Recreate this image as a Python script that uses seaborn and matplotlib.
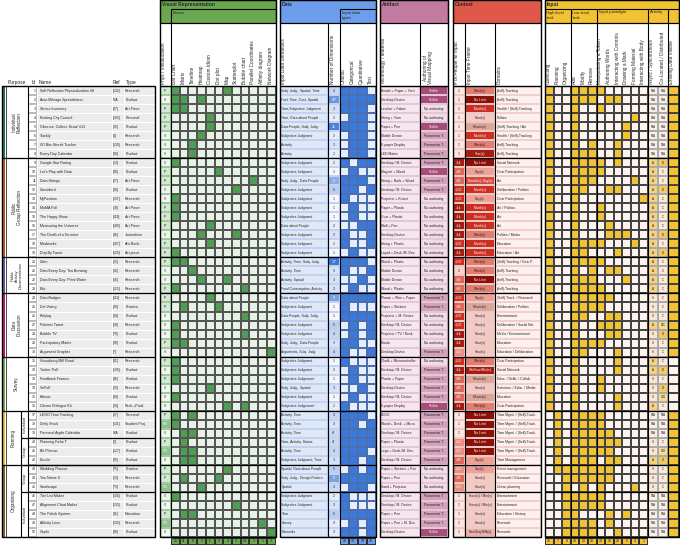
import numpy as np
import matplotlib
matplotlib.use('Agg')
import matplotlib.pyplot as plt
from matplotlib.colors import ListedColormap, LinearSegmentedColormap
from matplotlib.patches import Rectangle
import seaborn as sns

# ==============================================================================
# Data (read off the reference table)
# ==============================================================================
NAMES = ['Self Reflection Physicalization #8', 'Auto Mileage Spreadsheet', 'Stress Inventory',
         'Knitting City Council', 'Observe, Collect, Draw! #13', 'Trackly', 'I/O Bits Streak Tracker',
         'Every Day Calendar', 'Google Star Rating', "Let's Play with Data", 'Data Strings', 'Consider.it',
         'MyPosition', 'MoMA Poll', 'The Happy Show', 'Measuring the Universe', 'The Death of a Terrorist',
         'Mindworks', 'Drip By Tweet', 'Calm', 'Data Every Day: Tea Brewing', 'Data Every Day: Plant Water',
         'Edo', 'Data Badges', 'Dot Voting', 'Polylog', 'Polemic Tweet', 'Bubble TV', 'Participatory Matrix',
         'Argument Grapher', 'Visualizing Mill Road', 'Twitter Poll', 'Feedback Frames', 'VisPoll', 'Kahoot',
         'Citizen Dialogue Kit', 'LEGO Time Tracking', 'Daily Stack', 'Personal Apple Calendar',
         'Planning Fiche T', 'Bit Planner', 'Doodle', 'Wedding Planner', 'You Name It', 'Sandscape',
         'Tier List Maker', 'Alignment Chart Maker', 'The Polish System', 'Affinity Lens', 'Gephi']
REFS = ['[132]', 'N/A', '[47]', '[103]', '[95]', '[4]', '[139]', '[90]', '[53]', '[40]', '[27]', '[84]',
        '[137]', '[58]', '[119]', '[109]', '[86]', '[107]', '[129]', '[55]', '[16]', '[16]', '[123]', '[111]',
        '[28]', '[34]', '[68]', '[70]', '[80]', '[7]', '[81]', '[135]', '[46]', '[23]', '[44]', '[24]',
        '[67]', '[131]', 'N/A', '[2]', '[127]', '[35]', '[75]', '[13]', '[73]', '[134]', '[133]', '[41]',
        '[130]', '[49]']
TYPES = ['Research', 'Product', 'Art Piece', 'Personal', 'Product', 'Research', 'Research', 'Product',
         'Product', 'Product', 'Art Piece', 'Product', 'Research', 'Art Piece', 'Art Piece', 'Art Piece',
         'Journalism', 'Art+Rsch.', 'Art piece', 'Research', 'Research', 'Research', 'Research', 'Research',
         'Practice', 'Product', 'Research', 'Product', 'Product', 'Research', 'Research', 'Product', 'Product',
         'Research', 'Product', 'Rsch.+Prod.', 'Personal', 'Student Proj.', 'Product', 'Product', 'Product',
         'Product', 'Practice', 'Research', 'Research', 'Product', 'Product', 'Education', 'Research', 'Product']

PURPOSE_LABELS = ['Individual\nReflection', 'Public\nGroup Reflection', 'Public\nActivity\nDocumentation',
                  'Data\nDiscussion', 'Survey', 'Planning', 'Organizing']
PURPOSE_SIZES = [8, 11, 4, 7, 6, 6, 8]
PURPOSE_COLORS = ['#22795a', '#c2581f', '#5c5fa8', '#c2186b', '#6aa84f', '#f1c232', '#8d6430']
SUB_LABELS = ['Individual', 'Group', 'Group', 'Individual']
SUB_SIZES = [3, 3, 3, 5]

PHYS = ['P', 'V', 'P', 'P', 'P*', 'V', 'V', 'V', 'V', 'P', 'P', 'V', 'V', 'P', 'P', 'P*', 'V', 'P', 'P',
        'P', 'V', 'V', 'P', 'P', 'P', 'V', 'V', 'V', 'P', 'V', 'P', 'V', 'P', 'V', 'V', 'V', 'P', 'P/V',
        'V', 'P', 'P/V', 'V', 'P', 'P', 'P/V', 'V', 'V', 'P*', 'P/V', 'V']
IDIOMS = ['Bar Chart', 'Matrix', 'Timeline', 'Heatmap', 'Custom Idiom', 'Dot plot', 'Map', 'Scatterplot',
          'Bubble chart', 'Parallel Coordinates', 'Affinity diagram', 'Network Diagram']
IDIOM_ROWS = ['100000100000', '110100000000', '110000000000', '000010000000', '000010000000',
              '000100000000', '001000000000', '001000000000', '100000000000', '000001000000',
              '000000000100', '000000010000', '100000000000', '100000000000', '100000000000',
              '000010000000', '000100010000', '000010000000', '100000000000', '110000000000',
              '001000000000', '000100100000', '100000001000', '000010000000', '010001000000',
              '000000001000', '100000000000', '100000001000', '110000000000', '000000000001',
              '100000000000', '100000000000', '100000000000', '000010000000', '100000000000',
              '000000101000', '101000000000', '100000000000', '011000000000', '010000000000',
              '011000000000', '011000000000', '000000100000', '010001000000', '000100000000',
              '100000000000', '000000010000', '011000000000', '000000000010', '000000000001']
IDIOM_TOTALS = ['21', '11', '8', '5', '6', '3', '4', '3', '14', '1', '1', '2']

SEMANTICS = ['Subj. Judg., Spatial, Time', 'Fuel, Time, Cost, Spatial', 'Time,Subjective Judgment',
             'Time, Data about People', 'Data:People, Subj. Judg.', 'Subjective Judgment', 'Activity',
             'Activity', 'Subjective Judgment', 'Subjective Judgment', 'Subj. Judg., Data:People',
             'Subjective Judgment', 'Subjective Judgment', 'Subjective Judgment', 'Subjective Judgment',
             'Data about People', 'Subjective Judgment', 'Subjective Judgment', 'Subjective Judgment',
             'Activity, Time, Subj. Judg', 'Activity, Time', 'Activity, Spatial', 'Food Consumption, Activity',
             'Data about People', 'Subjective Judgment', 'Data:People, Subj. Judg.', 'Subjective Judgment',
             'Subjective Judgment', 'Subj. Judg., Data:People', 'Arguments, Subj. Judg.',
             'Subjective Judgment', 'Subjective Judgment', 'Subjective Judgement', 'Subj. Judg., Spatial',
             'Subjective Judgment', 'Subjective Judgement', 'Activity, Time', 'Activity, Time',
             'Activity, Time', 'Time, Activity, Status', 'Activity, Time', 'Subjective Judgment, Time',
             'Spatial, Data about People', 'Subj. Judg., Design Pattern', 'Spatial', 'Subjective Judgment',
             'Subjective Judgment', 'Time', 'Survey', 'Networks']
DIMS = ['4', '10*', '3', '2', '12', '2', '3', '2', '2', '1', '8', '5', '1', '1', '1', '2', '3', '2', '1',
        '13*', '3', '3', '3', '9', '1', '1', '5', '4', '3', '4', '1', '2', '1', '3', '1', '2', '4', '3',
        '4*', '4*', '4', '3', '5', '9', '4', '2', '3', '5', '2*', '2*']
DTYPES = ['Ordinal', 'Categorical', 'Quantitative', 'Text']
DTYPE_ROWS = ['1110', '1111', '1110', '0110', '1110', '0110', '0110', '0110', '1011', '0100',
              '1110', '1101', '1000', '0100', '0100', '0011', '1001', '1001', '0100', '1110',
              '1001', '0010', '0100', '1111', '1000', '1111', '0101', '0101', '1100', '1001',
              '1000', '0100', '0100', '0010', '0100', '1000', '1110', '1101', '1111', '1111',
              '1110', '1101', '0101', '1111', '0110', '1000', '1000', '1111', '0101', '1101']
DTYPE_TOTALS = ['28', '30', '19', '18']

TECH = ['Beads + Paper + Yarn', 'Desktop Device', 'Leather + Fabric', 'String + Yarn', 'Paper + Pen',
        'Mobile Device', 'E-paper Display', 'LED Matrix', 'Desktop / M. Device', 'Magnet + Wood',
        'String + Nails + Wood', 'Desktop / M. Device', 'Projector + Kinect', 'Paper + Plastic',
        'Gum + Plastic', 'Wall + Pen', 'Desktop Device', 'String + Plastic', 'Liquid + Desk./M. Dev.',
        'Wood + Plastic', 'Mobile Device', 'Mobile Device', 'Wood + Plastic', 'Plastic + Wire + Paper',
        'Paper + Stickers', 'Projector + M. Device', 'Desktop / M. Device', 'Projector / TV / Desk.',
        'Plastic', 'Desktop Device', 'Chalk + Microcontroller', 'Desktop / M. Device', 'Plastic + Paper',
        'Desktop Device', 'Desktop / M. Device', 'E-paper Display', 'LEGO', 'Wood + Desk. + Micro.',
        'Desktop / M. Device', 'Paper + Plastic', 'Lego + Desk./M. Dev.', 'Desktop / M. Device',
        'Paper + Stickers + Pen', 'Paper + Pen', 'Sand + Projector', 'Desktop / M. Device',
        'Desktop / M. Device', 'Paper + Pen', 'Paper + Pen + M. Dev.', 'Desktop Device']
AUTHORING = ['Toolkit', 'Toolkit', 'No authoring', 'No authoring', 'Toolkit', 'Parametric T.',
             'Parametric T.', 'Parametric T.', 'Parametric T.', 'Toolkit', 'Parametric T.', 'Parametric T.',
             'No authoring', 'No authoring', 'No authoring', 'No authoring', 'No authoring', 'No authoring',
             'No authoring', 'No authoring', 'No authoring', 'No authoring', 'No authoring', 'Parametric T.',
             'Parametric T.', 'No authoring', 'No authoring', 'No authoring', 'No authoring', 'Parametric T.',
             'No authoring', 'Parametric T.', 'Parametric T.', 'Parametric T.', 'Parametric T.', 'Toolkit',
             'Parametric T.', 'Parametric T.', 'Parametric T.', 'Parametric T.', 'Parametric T.',
             'Parametric T.', 'No authoring', 'No authoring', 'No authoring', 'Parametric T.',
             'Parametric T.', 'Parametric T.', 'Parametric T.', 'Toolkit']

PEOPLE = ['1', '1', '1', '1', '1', '1', '1', '1', '>1k', '>30', '>30', '>100', '>100', '>1k', '>1k', '>1k',
          '>1k', '>100', '>1k', '>100', '2', '>30', '>30', '>100', '>30', '>100', '>100', '>1k', '>1k',
          '>10', '>100', '>1k', '>30', '>30', '>30', '>1k', '1', '1', '1', '>10', '>10', '>30', '>10', '>30',
          '>10', '1', '1', '1', '1', '1']
TIMEFRAME = ['Week(s)', 'No Limit', 'Month(s)', 'Hour(s)', 'Minute(s)', 'Month(s)', 'Week(s)', 'Year(s)',
             'No Limit', 'Day(s)', 'Month(s), Day(s)', 'Month(s)', 'Day(s)', 'Month(s)', 'Month(s)',
             'Month(s)', 'Week(s)', 'Month(s)', 'Month(s)', 'Week(s)', 'Week(s)', 'No Limit', 'Week(s)',
             'Day(s)', 'Minute(s)', 'Hour(s)', 'Hour(s)', 'Hour(s)', 'Hour(s)', 'Hour(s)', 'Week(s)',
             'Wk/Hour/Min(s)', 'Minute(s)', 'Hour(s)', 'Minute(s)', 'Week(s)', 'No Limit', 'No Limit',
             'No Limit', 'No Limit', 'No Limit', 'Day(s)', 'Day(s)', 'Hour(s)', 'Hour(s)',
             'Hour(s) / Min(s)', 'Hour(s) / Min(s)', 'Hour(s)', 'Hour(s)', 'Hour/Day/Wk(s)']
DOMAINS = ['(Self)-Tracking', '(Self)-Tracking', 'Health / (Self)-Tracking', 'Politics',
           '(Self)-Tracking / Art', 'Health / (Self)-Tracking', '(Self)-Tracking', '(Self)-Tracking',
           'Social Network', 'Civic Participation', 'Art', 'Deliberation / Politics', 'Civic Participation',
           'Art / Politics', 'Art', 'Art', 'Politics / Media', 'Education', 'Education / Art',
           '(Self)-Tracking / Civic P.', '(Self)-Tracking', '(Self)-Tracking', '(Self)-Tracking',
           '(Self)-Track. / Research', 'Deliberation / Politics', 'Entertainment',
           'Deliberation / Social Net.', 'Media / Entertainment', 'Education', 'Education / Deliberation',
           'Civic Participation', 'Social Network', 'Educ. / Delib. / Collab.', 'Entertain. / Educ. / Media',
           'Education', 'Civic Participation', 'Time Mgmt. / (Self)-Track.', 'Time Mgmt. / (Self)-Track.',
           'Time Mgmt. / (Self)-Track.', 'Time Mgmt. / (Self)-Track.', 'Time Mgmt. / (Self)-Track.',
           'Time Management', 'Event management', 'Research / Education', 'Urban planning', 'Entertainment',
           'Entertainment', 'Education / History', 'Research', 'Research']

INPUT_COLS = ['Collecting', 'Planning', 'Organizing', 'Add', 'Modify', 'Remove', 'Manipulating a Token',
              'Authoring Words', 'Interacting with Controls', 'Drawing a Mark', 'Forming Material',
              'Interacting with Body']
INPUT_ROWS = ['100111100000', '100111011000', '100100100000', '100100000010', '100100000100',
              '100100000100', '100101001000', '100111001000', '100111101000', '100111100000',
              '100111000010', '100110011000', '100100000001', '100100100000', '100100100000',
              '100100010000', '100100011100', '100111100010', '100110001000', '100111100000',
              '100101011000', '100111000100', '100111100000', '100111110000', '100111100000',
              '100110011000', '100100111000', '100100011000', '100111100000', '100110001000',
              '100100001000', '100100001000', '100100100000', '100100100000', '100100001000',
              '100100001000', '010111100000', '010111100000', '010111110000', '010111111000',
              '010111110000', '010111011000', '011111110000', '001111110000', '001010100010',
              '001111100000', '001111100000', '001100010100', '001111010000', '001111001000']
INPUT_TOTALS = ['36', '7', '8', '49', '28', '28', '24', '16', '20', '6', '4', '1']
ASYNC = ['N/A'] * 8 + ['A'] * 15 + ['S', 'S', 'S', 'A', 'S', 'S', 'S', 'A', 'A', 'S', 'S', 'S', 'A',
                                    'N/A', 'N/A', 'N/A', 'S', 'S', 'A', 'S', 'S', 'S'] + ['N/A'] * 5
COLOC = ['N/A'] * 8 + ['D', 'C', 'C', 'D', 'C', 'C', 'C', 'C', 'D', 'C', 'D', 'C', 'C', 'C', 'C',
                       'C', 'C', 'C', 'D/C', 'D', 'C', 'C', 'C', 'D', 'C', 'D', 'C/D', 'C',
                       'N/A', 'N/A', 'N/A', 'C', 'C/D', 'D', 'C', 'C', 'C'] + ['N/A'] * 5
EXISTING = [1] * 30 + [0] * 6 + [1] * 14

# ==============================================================================
# Layout (pixels of the 680x545 picture)
# ==============================================================================
W, H = 680, 545
Y0, Y1 = 86.0, 537.0
N = len(NAMES)
RH = (Y1 - Y0) / N
FS = 2.6

sns.set_theme(style='white')
plt.rcParams['font.family'] = ['Liberation Sans', 'DejaVu Sans']

fig = plt.figure(figsize=(6.8, 5.45), dpi=100)


def rect(x0, y0, x1, y1):
    return [x0 / W, 1 - y1 / H, (x1 - x0) / W, (y1 - y0) / H]


def heat(x0, x1, codes, colors, y0=Y0, y1=Y1, lw=0.3, lc='#777777', cmap=None, vmin=None, vmax=None):
    ax = fig.add_axes(rect(x0, y0, x1, y1))
    codes = np.asarray(codes, dtype=float)
    if codes.ndim == 1:
        codes = codes[:, None]
    if cmap is None:
        cmap = ListedColormap(colors)
        vmin, vmax = -0.5, len(colors) - 0.5
    sns.heatmap(codes, ax=ax, cmap=cmap, vmin=vmin, vmax=vmax, cbar=False, linewidths=lw,
                linecolor=lc, xticklabels=False, yticklabels=False)
    ax.set_xticks([])
    ax.set_yticks([])
    return ax


def write(ax, labels, ha='center', colors=None, fs=FS, row=False):
    for i, s in enumerate(labels):
        c = colors[i] if colors is not None else '#222222'
        if row:
            ax.text(i + 0.5, 0.5, s, ha='center', va='center', fontsize=fs, color=c)
        else:
            x = {'left': 0.04, 'right': 0.9, 'center': 0.5}[ha]
            ax.text(x, i + 0.5, s, ha=ha, va='center', fontsize=fs, color=c)


def bits(rows):
    return np.array([[int(ch) for ch in r] for r in rows])


def codes_of(values, levels):
    return [levels.index(v) for v in values]


# ---- left table --------------------------------------------------------------
group_codes = np.repeat(np.arange(len(PURPOSE_SIZES)), PURPOSE_SIZES)
heat(2, 5.5, group_codes, PURPOSE_COLORS, lw=0)
ax = heat(28, 37, np.zeros(N), ['#ffffff'], lc='#bbbbbb')
write(ax, [str(i) for i in range(1, N + 1)], ha='right')
ax = heat(37, 112, np.zeros(N), ['#ececec'], lc='white', lw=0.6)
write(ax, NAMES, ha='left')
ax = heat(112, 124, np.zeros(N), ['#ececec'], lc='white', lw=0.6)
write(ax, REFS, ha='left', fs=2.4)
ax = heat(124, 155, np.zeros(N), ['#ececec'], lc='white', lw=0.6)
write(ax, TYPES, ha='left')

# ---- visual representation ---------------------------------------------------
phys_levels = ['V', 'P', 'P*', 'P/V']
ax = heat(159.5, 171, codes_of(PHYS, phys_levels), ['#eef6ee', '#d3e8d3', '#d3e8d3', '#8cc08c'],
          lc='#9fc99f')
write(ax, PHYS, colors=['white' if p == 'P/V' else '#222222' for p in PHYS], fs=2.3)
heat(171, 275.5, bits(IDIOM_ROWS), ['#e6f2e6', '#4f9d52'], lc='#555555', lw=0.35)
ax = heat(171, 275.5, [np.zeros(len(IDIOM_TOTALS))], ['#6aa84f'], y0=537.5, y1=545, lc='#333333')
write(ax, IDIOM_TOTALS, row=True, fs=2.5)

# ---- data --------------------------------------------------------------------
ax = heat(279.5, 328, np.zeros(N), ['#dfe8f7'], lc='#c3d2ee')
write(ax, SEMANTICS, ha='left', fs=2.4)
dim_values = [float(d.rstrip('*')) for d in DIMS]
blues = LinearSegmentedColormap.from_list('dims', ['#f4f7fd', '#3c78d8'])
ax = heat(328, 340, dim_values, None, lc='#c3d2ee', cmap=blues, vmin=1, vmax=13)
write(ax, DIMS, colors=['white' if v >= 8 else '#222222' for v in dim_values], fs=2.4)
heat(340, 375.5, bits(DTYPE_ROWS), ['#e6edfb', '#3c78d8'], lc='#4a6fb0', lw=0.35)
ax = heat(340, 375.5, [np.zeros(len(DTYPE_TOTALS))], ['#6d9eeb'], y0=537.5, y1=545, lc='#333333')
write(ax, DTYPE_TOTALS, row=True, fs=2.5)

# ---- artifact ----------------------------------------------------------------
ax = heat(379.5, 420, np.zeros(N), ['#f6e6ee'], lc='#e4c6d5')
write(ax, TECH, ha='left', fs=2.4)
auth_levels = ['No authoring', 'Parametric T.', 'Toolkit']
ax = heat(420, 447.5, codes_of(AUTHORING, auth_levels), ['#f1dce7', '#d4a3bb', '#a64d79'], lc='#e4c6d5')
write(ax, AUTHORING, colors=['white' if a == 'Toolkit' else '#222222' for a in AUTHORING], fs=2.4)

# ---- context -----------------------------------------------------------------
people_levels = ['1', '2', '>10', '>30', '>100', '>1k']
people_colors = ['#fbe4e1', '#f7d3ce', '#ea8f83', '#e0675a', '#cc2e22', '#a51d12']
ax = heat(452.5, 465, codes_of(PEOPLE, people_levels), people_colors, lc='#f0c8c2')
write(ax, PEOPLE, colors=['white' if people_levels.index(p) >= 2 else '#222222' for p in PEOPLE], fs=2.3)
time_levels = ['Minute(s)', 'Hour(s)', 'Hour(s) / Min(s)', 'Hour/Day/Wk(s)', 'Day(s)', 'Week(s)',
               'Month(s), Day(s)', 'Month(s)', 'Wk/Hour/Min(s)', 'Year(s)', 'No Limit']
time_colors = ['#d9a89b', '#f3cbc5', '#f3cbc5', '#eab0a8', '#eea197', '#e27d71', '#d44a3e', '#cc2e22',
               '#a51d12', '#a51d12', '#8a1108']
ax = heat(465, 495, codes_of(TIMEFRAME, time_levels), time_colors, lc='#f0c8c2')
write(ax, TIMEFRAME, colors=['white' if time_levels.index(t) >= 6 else '#222222' for t in TIMEFRAME],
      fs=2.3)
ax = heat(495, 540.5, np.zeros(N), ['#fdf0ee'], lc='#f0d0cc')
write(ax, DOMAINS, ha='left', fs=2.4)

# ---- input -------------------------------------------------------------------
heat(545, 648, bits(INPUT_ROWS), ['#fdf3ee', '#f1c232'], lc='#444444', lw=0.35)
act_levels = ['N/A', 'A', 'S', 'C', 'D', 'C/D', 'D/C']
act_colors = ['#fbeee6', '#f6d27e', '#fbe6d2', '#fbead8', '#f4c95e', '#f7dc98', '#f7dc98']
ax = heat(648, 658, codes_of(ASYNC, act_levels), act_colors, lc='#aaaaaa')
write(ax, ASYNC, fs=2.2)
ax = heat(658, 668, codes_of(COLOC, act_levels), act_colors, lc='#aaaaaa')
write(ax, COLOC, fs=2.2)
heat(668, 678.5, EXISTING, ['#fdf3ee', '#f1c232'], lc='#444444', lw=0.35)
ax = heat(545, 648, [np.zeros(len(INPUT_TOTALS))], ['#f1c232'], y0=537.5, y1=545, lc='#333333')
write(ax, INPUT_TOTALS, row=True, fs=2.5)

# ==============================================================================
# Overlay: header bands, rotated column labels, borders
# ==============================================================================
ov = fig.add_axes([0, 0, 1, 1], facecolor='none')
ov.set_xlim(0, W)
ov.set_ylim(H, 0)
ov.axis('off')


def line(xs, ys, lw=0.8):
    ov.plot(xs, ys, color='black', lw=lw, solid_capstyle='butt')


sections = [
    ('Visual Representation', 159.5, 275.5, '#6aa84f'),
    ('Data', 279.5, 375.5, '#6d9eeb'),
    ('Artifact', 379.5, 447.5, '#c27ba0'),
    ('Context', 452.5, 540.5, '#e0584a'),
    ('Input', 545, 678.5, '#f1c232'),
]
for title, x0, x1, col in sections:
    ov.add_patch(Rectangle((x0, 0), x1 - x0, 23, fc=col, ec='black', lw=0.8))
    ov.add_patch(Rectangle((x0, 0), x1 - x0, Y1, fill=False, ec='black', lw=1.0))
    ov.text(x0 + 2, 4.5, title, fontsize=3.6, fontweight='bold', va='center', ha='left')
    line([x0, x1], [23, 23])
    line([x0, x1], [Y0, Y0], lw=1.0)

# sub-bands
for xs in [(171, 275.5), (340, 375.5), (545, 571), (571, 597), (597, 648), (648, 668), (668, 678.5)]:
    line(list(xs), [8.5, 8.5])
ov.text(173, 12.5, 'Idioms', fontsize=3.0, va='center')
ov.text(342, 15.5, 'Input data\ntypes', fontsize=3.0, va='center', linespacing=1.1)
ov.text(546.5, 15.5, 'High level\ntask', fontsize=3.0, va='center', linespacing=1.1)
ov.text(572.5, 15.5, 'Low level\ntask', fontsize=3.0, va='center', linespacing=1.1)
ov.text(599, 12.5, 'Input paradigm', fontsize=3.0, va='center')
ov.text(650, 12.5, 'Activity', fontsize=3.0, va='center')

# vertical dividers
for x, top in [(171, 8.5), (328, 23), (340, 8.5), (420, 23), (465, 23), (495, 23),
               (571, 8.5), (597, 8.5), (648, 8.5), (668, 8.5)]:
    line([x, x], [top, Y1])

# rotated column labels
HFS = 3.4
idiom_x = np.linspace(171, 275.5, len(IDIOMS) + 1)
ov.text(163.5, 84.5, 'Phys / Visualization', rotation=90, ha='center', va='bottom', fontsize=HFS)
for i, lab in enumerate(IDIOMS):
    ov.text(idiom_x[i] + 3.5, 84.5, lab, rotation=90, ha='center', va='bottom', fontsize=HFS)
ov.text(284, 84.5, 'Input Data Semantics', rotation=90, ha='center', va='bottom', fontsize=HFS)
ov.text(332, 84.5, 'Number of Dimensions', rotation=90, ha='center', va='bottom', fontsize=HFS)
dt_x = np.linspace(340, 375.5, len(DTYPES) + 1)
for i, lab in enumerate(DTYPES):
    ov.text(dt_x[i] + 3.5, 84.5, lab, rotation=90, ha='center', va='bottom', fontsize=HFS)
ov.text(384, 84.5, 'Technology / Material', rotation=90, ha='center', va='bottom', fontsize=HFS)
ov.text(428, 84.5, 'Authoring of\nVisual Mapping', rotation=90, ha='center', va='bottom', fontsize=HFS,
        linespacing=1.1)
ov.text(456.5, 84.5, '# of People w/ Input', rotation=90, ha='center', va='bottom', fontsize=HFS)
ov.text(469.5, 84.5, 'Input Time Frame', rotation=90, ha='center', va='bottom', fontsize=HFS)
ov.text(499.5, 84.5, 'Domains', rotation=90, ha='center', va='bottom', fontsize=HFS)
inp_x = np.linspace(545, 648, len(INPUT_COLS) + 1)
for i, lab in enumerate(INPUT_COLS):
    ov.text(inp_x[i] + 3.5, 84.5, lab, rotation=90, ha='center', va='bottom', fontsize=HFS)
for x, lab in [(652, 'Async / Synchronous'), (662, 'Co-Located / Distributed'),
               (672, 'Existing Data Visible')]:
    ov.text(x, 84.5, lab, rotation=90, ha='center', va='bottom', fontsize=HFS)

# left headers
for x, lab, ha in [(17, 'Purpose', 'center'), (33.5, 'Id', 'center'), (39, 'Name', 'left'),
                   (113, 'Ref', 'left'), (125.5, 'Type', 'left')]:
    ov.text(x, 82.5, lab, fontsize=3.5, ha=ha, va='center')

# left table frame and purpose labels
ov.add_patch(Rectangle((2, Y0), 153, Y1 - Y0, fill=False, ec='black', lw=1.0))
line([28, 28], [Y0, Y1])
line([5.5, 5.5], [Y0, Y1], lw=0.5)
bounds = np.concatenate([[0], np.cumsum(PURPOSE_SIZES)])
for k, lab in enumerate(PURPOSE_LABELS):
    yc = Y0 + (bounds[k] + bounds[k + 1]) / 2 * RH
    if lab in ('Planning', 'Organizing'):
        ov.text(13.5, yc, lab, rotation=90, ha='center', va='center', fontsize=3.3)
    else:
        fs = 2.9 if 'Documentation' in lab else 3.3
        ov.text(16.5, yc, lab, rotation=90, ha='center', va='center', fontsize=fs, linespacing=1.1,
                multialignment='center')
for b in bounds[1:-1]:
    y = Y0 + b * RH
    line([2, 155], [y, y], lw=0.9)
    for _, x0, x1, _ in sections:
        line([x0, x1], [y, y], lw=0.9)

# planning / organizing sub-groups
sub_start = bounds[5]
line([21, 21], [Y0 + sub_start * RH, Y1])
sub_bounds = sub_start + np.concatenate([[0], np.cumsum(SUB_SIZES)])
for k, lab in enumerate(SUB_LABELS):
    yc = Y0 + (sub_bounds[k] + sub_bounds[k + 1]) / 2 * RH
    ov.text(24.5, yc, lab, rotation=90, ha='center', va='center', fontsize=3.0)
for b in sub_bounds[1:-1]:
    y = Y0 + b * RH
    line([21, 155], [y, y], lw=0.9)
for b in [sub_bounds[3]]:
    y = Y0 + b * RH
    for _, x0, x1, _ in sections:
        line([x0, x1], [y, y], lw=0.9)

fig.savefig('out.png', dpi=100)
